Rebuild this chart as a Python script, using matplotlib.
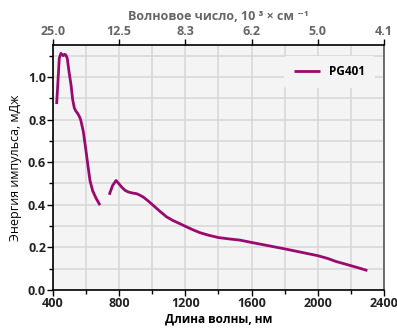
import matplotlib
matplotlib.use('Agg')
import matplotlib.pyplot as plt
from matplotlib.ticker import MultipleLocator

plt.rcParams['font.family'] = ['Open Sans', 'DejaVu Sans']

# visible part of the spectrum
wl_vis = [422, 430, 438, 448, 455, 462, 470, 477, 486, 498, 509, 519, 529, 538,
          547, 557, 567, 583, 597, 610, 624, 640, 660, 684]
en_vis = [0.873, 0.979, 1.088, 1.111, 1.105, 1.10, 1.106, 1.104, 1.088, 1.018,
          0.963, 0.893, 0.854, 0.84, 0.831, 0.818, 0.80, 0.745, 0.667, 0.59,
          0.512, 0.465, 0.431, 0.398]

# IR part
wl_ir = [740, 760, 781, 800, 815, 835, 855, 880, 905, 925, 946, 975, 1006,
         1045, 1087, 1125, 1167, 1208, 1250, 1288, 1340, 1400, 1460, 1530,
         1600, 1700, 1800, 1900, 2000, 2060, 2113, 2160, 2200, 2250, 2300]
en_ir = [0.447, 0.49, 0.514, 0.497, 0.483, 0.468, 0.46, 0.455, 0.452, 0.445,
         0.436, 0.418, 0.397, 0.37, 0.343, 0.326, 0.311, 0.296, 0.281, 0.269,
         0.257, 0.246, 0.240, 0.234, 0.223, 0.208, 0.193, 0.177, 0.161, 0.148,
         0.133, 0.123, 0.114, 0.103, 0.091]

top_ticks = [400, 800, 1200, 1600, 2000, 2400]
top_labels = ['25.0', '12.5', '8.3', '6.2', '5.0', '4.1']

color = '#9a0a6e'

fig = plt.figure(figsize=(3.97, 3.31), dpi=100)
ax = fig.add_axes([0.1335, 0.124, 0.8335, 0.74])
ax.set_facecolor('#f4f4f4')

ax.plot(wl_vis, en_vis, color=color, lw=2, label='PG401',
        solid_capstyle='butt', solid_joinstyle='round')
ax.plot(wl_ir, en_ir, color=color, lw=2,
        solid_capstyle='butt', solid_joinstyle='round')

ax.set_xlim(400, 2400)
ax.set_ylim(0, 1.15)
ax.xaxis.set_major_locator(MultipleLocator(400))
ax.xaxis.set_minor_locator(MultipleLocator(200))
ax.yaxis.set_major_locator(MultipleLocator(0.2))
ax.yaxis.set_minor_locator(MultipleLocator(0.1))
ax.yaxis.set_major_formatter(lambda v, p: f'{v:.1f}')
ax.grid(True, which='both', color='#d6d6d6', lw=1.1)
ax.set_axisbelow(True)

ax.tick_params(which='major', length=4, width=1, labelsize=9, pad=1)
ax.tick_params(which='minor', length=3, width=1)
for lab in ax.get_xticklabels() + ax.get_yticklabels():
    lab.set_fontweight('bold')
    lab.set_color('#222222')

ax.set_xlabel('Длина волны, нм', fontsize=8.5, fontweight='bold', labelpad=2)
ax.set_ylabel('Энергия импульса, мДж', fontsize=9, labelpad=4)

for side in ['left', 'bottom', 'top']:
    ax.spines[side].set_color('black')
    ax.spines[side].set_linewidth(1.2)
ax.spines['right'].set_color('#555555')
ax.spines['right'].set_linewidth(1.2)

top = ax.twiny()
top.set_xlim(ax.get_xlim())
top.set_xticks(top_ticks)
top.set_xticklabels(top_labels)
top.tick_params(length=4, width=1, labelsize=9, pad=1, labelcolor='#666666')
for lab in top.get_xticklabels():
    lab.set_fontweight('bold')
top.set_xlabel('Волновое число, 10 ³ × см ⁻¹', fontsize=9,
               color='#666666', fontweight='bold', labelpad=4)
for sp in top.spines.values():
    sp.set_visible(False)

leg = ax.legend(loc='upper right', bbox_to_anchor=(0.99, 0.98), frameon=True,
                facecolor='#f4f4f4', edgecolor='none', framealpha=1,
                fontsize=8.5, handlelength=2.2, borderpad=0.8)
for t in leg.get_texts():
    t.set_fontweight('bold')

fig.savefig('out.png', dpi=100)
